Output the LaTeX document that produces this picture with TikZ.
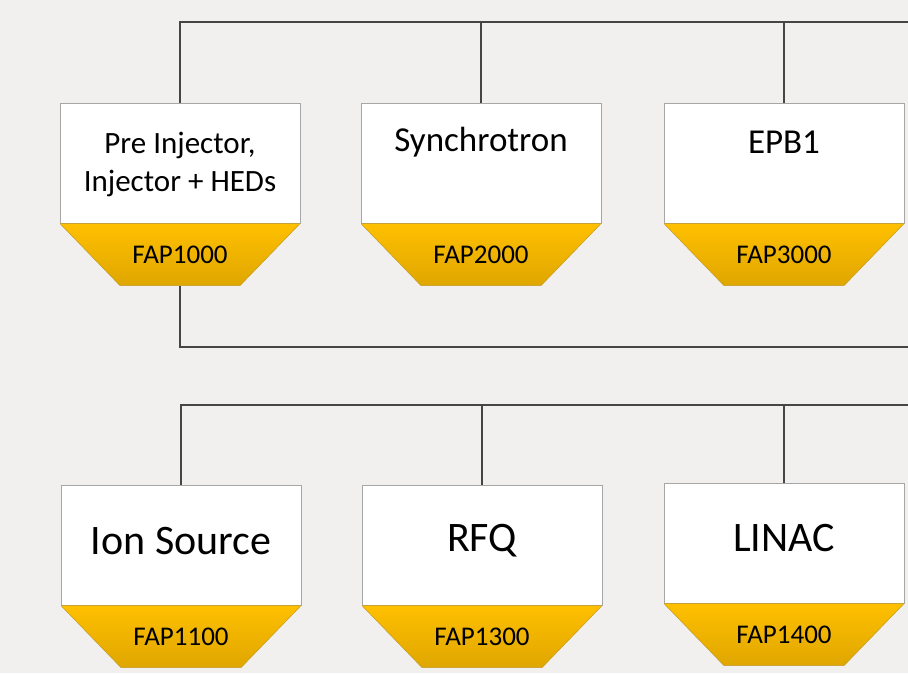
\documentclass[tikz,border=0pt]{standalone}
\usepackage{fontspec}
\setmainfont{Carlito}
\definecolor{bgc}{HTML}{F1F0EE}
\definecolor{wire}{HTML}{454545}
\definecolor{rim}{HTML}{A6A6A6}
\definecolor{goldt}{HTML}{FFC000}
\definecolor{goldb}{HTML}{DFA600}
\tikzset{
  every picture/.style={x=1pt, y=-1pt},
  box/.style={draw=rim, fill=white, line width=0.8pt,
    minimum width=240pt, minimum height=120pt, inner sep=0pt},
  fap/.style={fill=bgc, minimum width=240pt, minimum height=62pt, inner sep=0pt,
    font=\fontsize{27}{30}\selectfont,
    path picture={
      \shade[top color=goldt, bottom color=goldb, draw=goldb!70!gray, line width=0.5pt]
        (path picture bounding box.north west) -- (path picture bounding box.north east)
        -- ([xshift=-60pt]path picture bounding box.south east)
        -- ([xshift=60pt]path picture bounding box.south west) -- cycle;}},
  lbl/.style={align=center, inner sep=0pt},
  bus/.style={draw=wire, line width=2pt},
}
\def\ya{163}
\def\yb{545}

\begin{document}
\begin{tikzpicture}
  \fill[bgc] (0,0) rectangle (908,673);
  \useasboundingbox (0,0) rectangle (908,673);
  % upper group
  \node[box] (pre) at (180,\ya) {};
  \node[box] (syn) at (481,\ya) {};
  \node[box] (epb) at (784,\ya) {};
  \node[fap, anchor=north] (f1000) at (pre.south) {FAP1000};
  \node[fap, anchor=north] (f2000) at (syn.south) {FAP2000};
  \node[fap, anchor=north] (f3000) at (epb.south) {FAP3000};
  \node[lbl, font=\fontsize{31}{38}\selectfont] (tpre) at (180,164) {Pre Injector,\\Injector + HEDs};
  \node[lbl, font=\fontsize{35}{40}\selectfont] (tsyn) at (481,142) {Synchrotron};
  \node[lbl, font=\fontsize{35}{40}\selectfont] (tepb) at (784,142) {EPB1};
  \coordinate (bt) at (908,22);
  \coordinate (bm) at (908,347);
  \draw[bus] (pre.north) |- (bt);
  \draw[bus] (syn.north) -- (syn.north |- bt);
  \draw[bus] (epb.north) -- (epb.north |- bt);
  \draw[bus] (f1000.south) |- (bm);
  % lower group
  \node[box] (ion) at (181,\yb) {};
  \node[box] (rfq) at (482,\yb) {};
  \node[box] (lin) at (784,543) {};
  \node[fap, anchor=north] (f1100) at (ion.south) {FAP1100};
  \node[fap, anchor=north] (f1300) at (rfq.south) {FAP1300};
  \node[fap, anchor=north] (f1400) at (lin.south) {FAP1400};
  \node[lbl, font=\fontsize{42}{46}\selectfont] (tion) at (181,541) {Ion Source};
  \node[lbl, font=\fontsize{42}{46}\selectfont] (trfq) at (482,541) {RFQ};
  \node[lbl, font=\fontsize{42}{46}\selectfont] (tlin) at (784,538) {LINAC};
  \coordinate (bl) at (908,405);
  \draw[bus] (ion.north) |- (bl);
  \draw[bus] (rfq.north) -- (rfq.north |- bl);
  \draw[bus] (lin.north) -- (lin.north |- bl);
\end{tikzpicture}
\end{document}
